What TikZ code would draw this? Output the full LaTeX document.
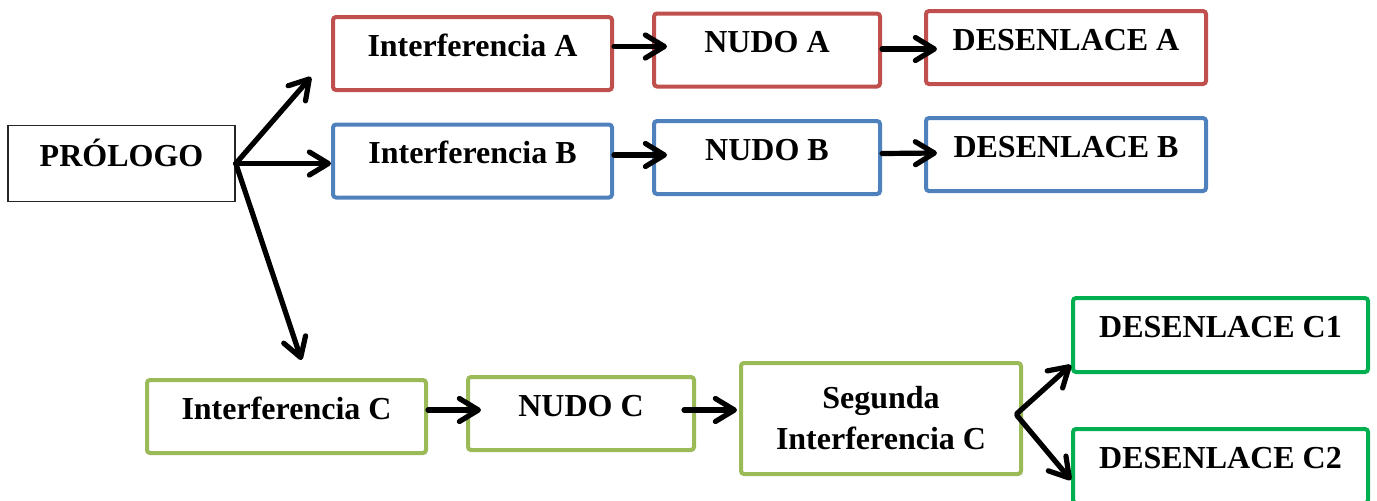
\documentclass[tikz,border=0pt]{standalone}
\usepackage{fontspec}
\setmainfont{Liberation Serif}
\usetikzlibrary{arrows.meta,calc}
\definecolor{redline}{RGB}{192,80,77}
\definecolor{blueline}{RGB}{79,129,189}
\definecolor{greenline}{RGB}{155,187,89}
\definecolor{endgreen}{RGB}{0,176,80}

\begin{document}
\begin{tikzpicture}[x=0.5pt, y=-0.5pt,
    stage/.style={rectangle, draw, line width=2pt, rounded corners=1.5pt, inner sep=0pt, font=\fontsize{16}{20.5}\selectfont\bfseries, minimum height=36.5pt},
    oneline/.style={stage, text height=10.5pt, text depth=8pt},
    start/.style={oneline, draw=black!85, line width=0.8pt, rounded corners=0pt, minimum width=113.5pt, minimum height=38pt},
    plotA/.style={oneline, draw=redline},
    plotB/.style={oneline, draw=blueline},
    plotC/.style={oneline, draw=greenline},
    ending/.style={oneline, draw=endgreen, minimum width=147.5pt, minimum height=37pt},
    arrow/.style={-{Straight Barb[length=9.5pt,width=11.5pt,round]}, line width=2.6pt, line cap=round}
]
    \useasboundingbox (0,0) rectangle (1377,500);

    \node[start] (prologo) at (121.5,163.5) {PRÓLOGO};

    \node[plotA, minimum width=139.5pt] (intA) at (472.5,53.5) {Interferencia A};
    \node[plotA, minimum width=113pt] (nudoA) at (767,50) {NUDO A};
    \node[plotA, minimum width=140pt] (desA) at (1066,47.5) {DESENLACE A};

    \node[plotB, minimum width=139.5pt] (intB) at (472.5,161) {Interferencia B};
    \node[plotB, minimum width=113pt] (nudoB) at (767,157.5) {NUDO B};
    \node[plotB, minimum width=140pt] (desB) at (1066,154.5) {DESENLACE B};

    \node[plotC, minimum width=139.5pt] (intC) at (286.5,416.5) {Interferencia C};
    \node[plotC, minimum width=113pt] (nudoC) at (581,413.5) {NUDO C};
    \node[stage, draw=greenline, align=center, minimum width=140pt, minimum height=55.5pt] (segC) at (881,418.5) {Segunda\\Interferencia C};
    \node[ending] (desC1) at (1220.5,335) {DESENLACE C1};
    \node[ending] (desC2) at (1220.5,466) {DESENLACE C2};

    % from the prologue
    \draw[arrow] (prologo.east) -- ($(intA.south west)+(-20,-15)$);
    \draw[arrow] (prologo.east) -- (prologo.east -| intB.west);
    \draw[arrow] (prologo.east) -- ($(intC.north)+(15,-18)$);

    % rows A and B
    \draw[arrow] ($(intA.east)+(0,-7)$) -- ($(nudoA.west)+(15,-3.5)$);
    \draw[arrow] ($(nudoA.east)+(0,-1)$) -- ($(desA.west)+(13,1.5)$);
    \draw[arrow] ($(intB.east)+(0,-6)$) -- ($(nudoB.west)+(15,-2.5)$);
    \draw[arrow] ($(nudoB.east)+(0,-4)$) -- ($(desB.west)+(13,-1.5)$);

    % row C
    \draw[arrow] ($(intC.east)+(0,-6.5)$) -- ($(nudoC.west)+(15,-3.5)$);
    \draw[arrow] ($(nudoC.east)+(-12,-3.5)$) -- ($(segC.west)+(-2,-8.5)$);
    \draw[arrow] ($(segC.east)+(-6,-5)$) -- ($(desC1.south west)+(0,-9)$);
    \draw[arrow] ($(segC.east)+(-6,-3)$) -- ($(desC2.west)+(0,14)$);
\end{tikzpicture}
\end{document}
